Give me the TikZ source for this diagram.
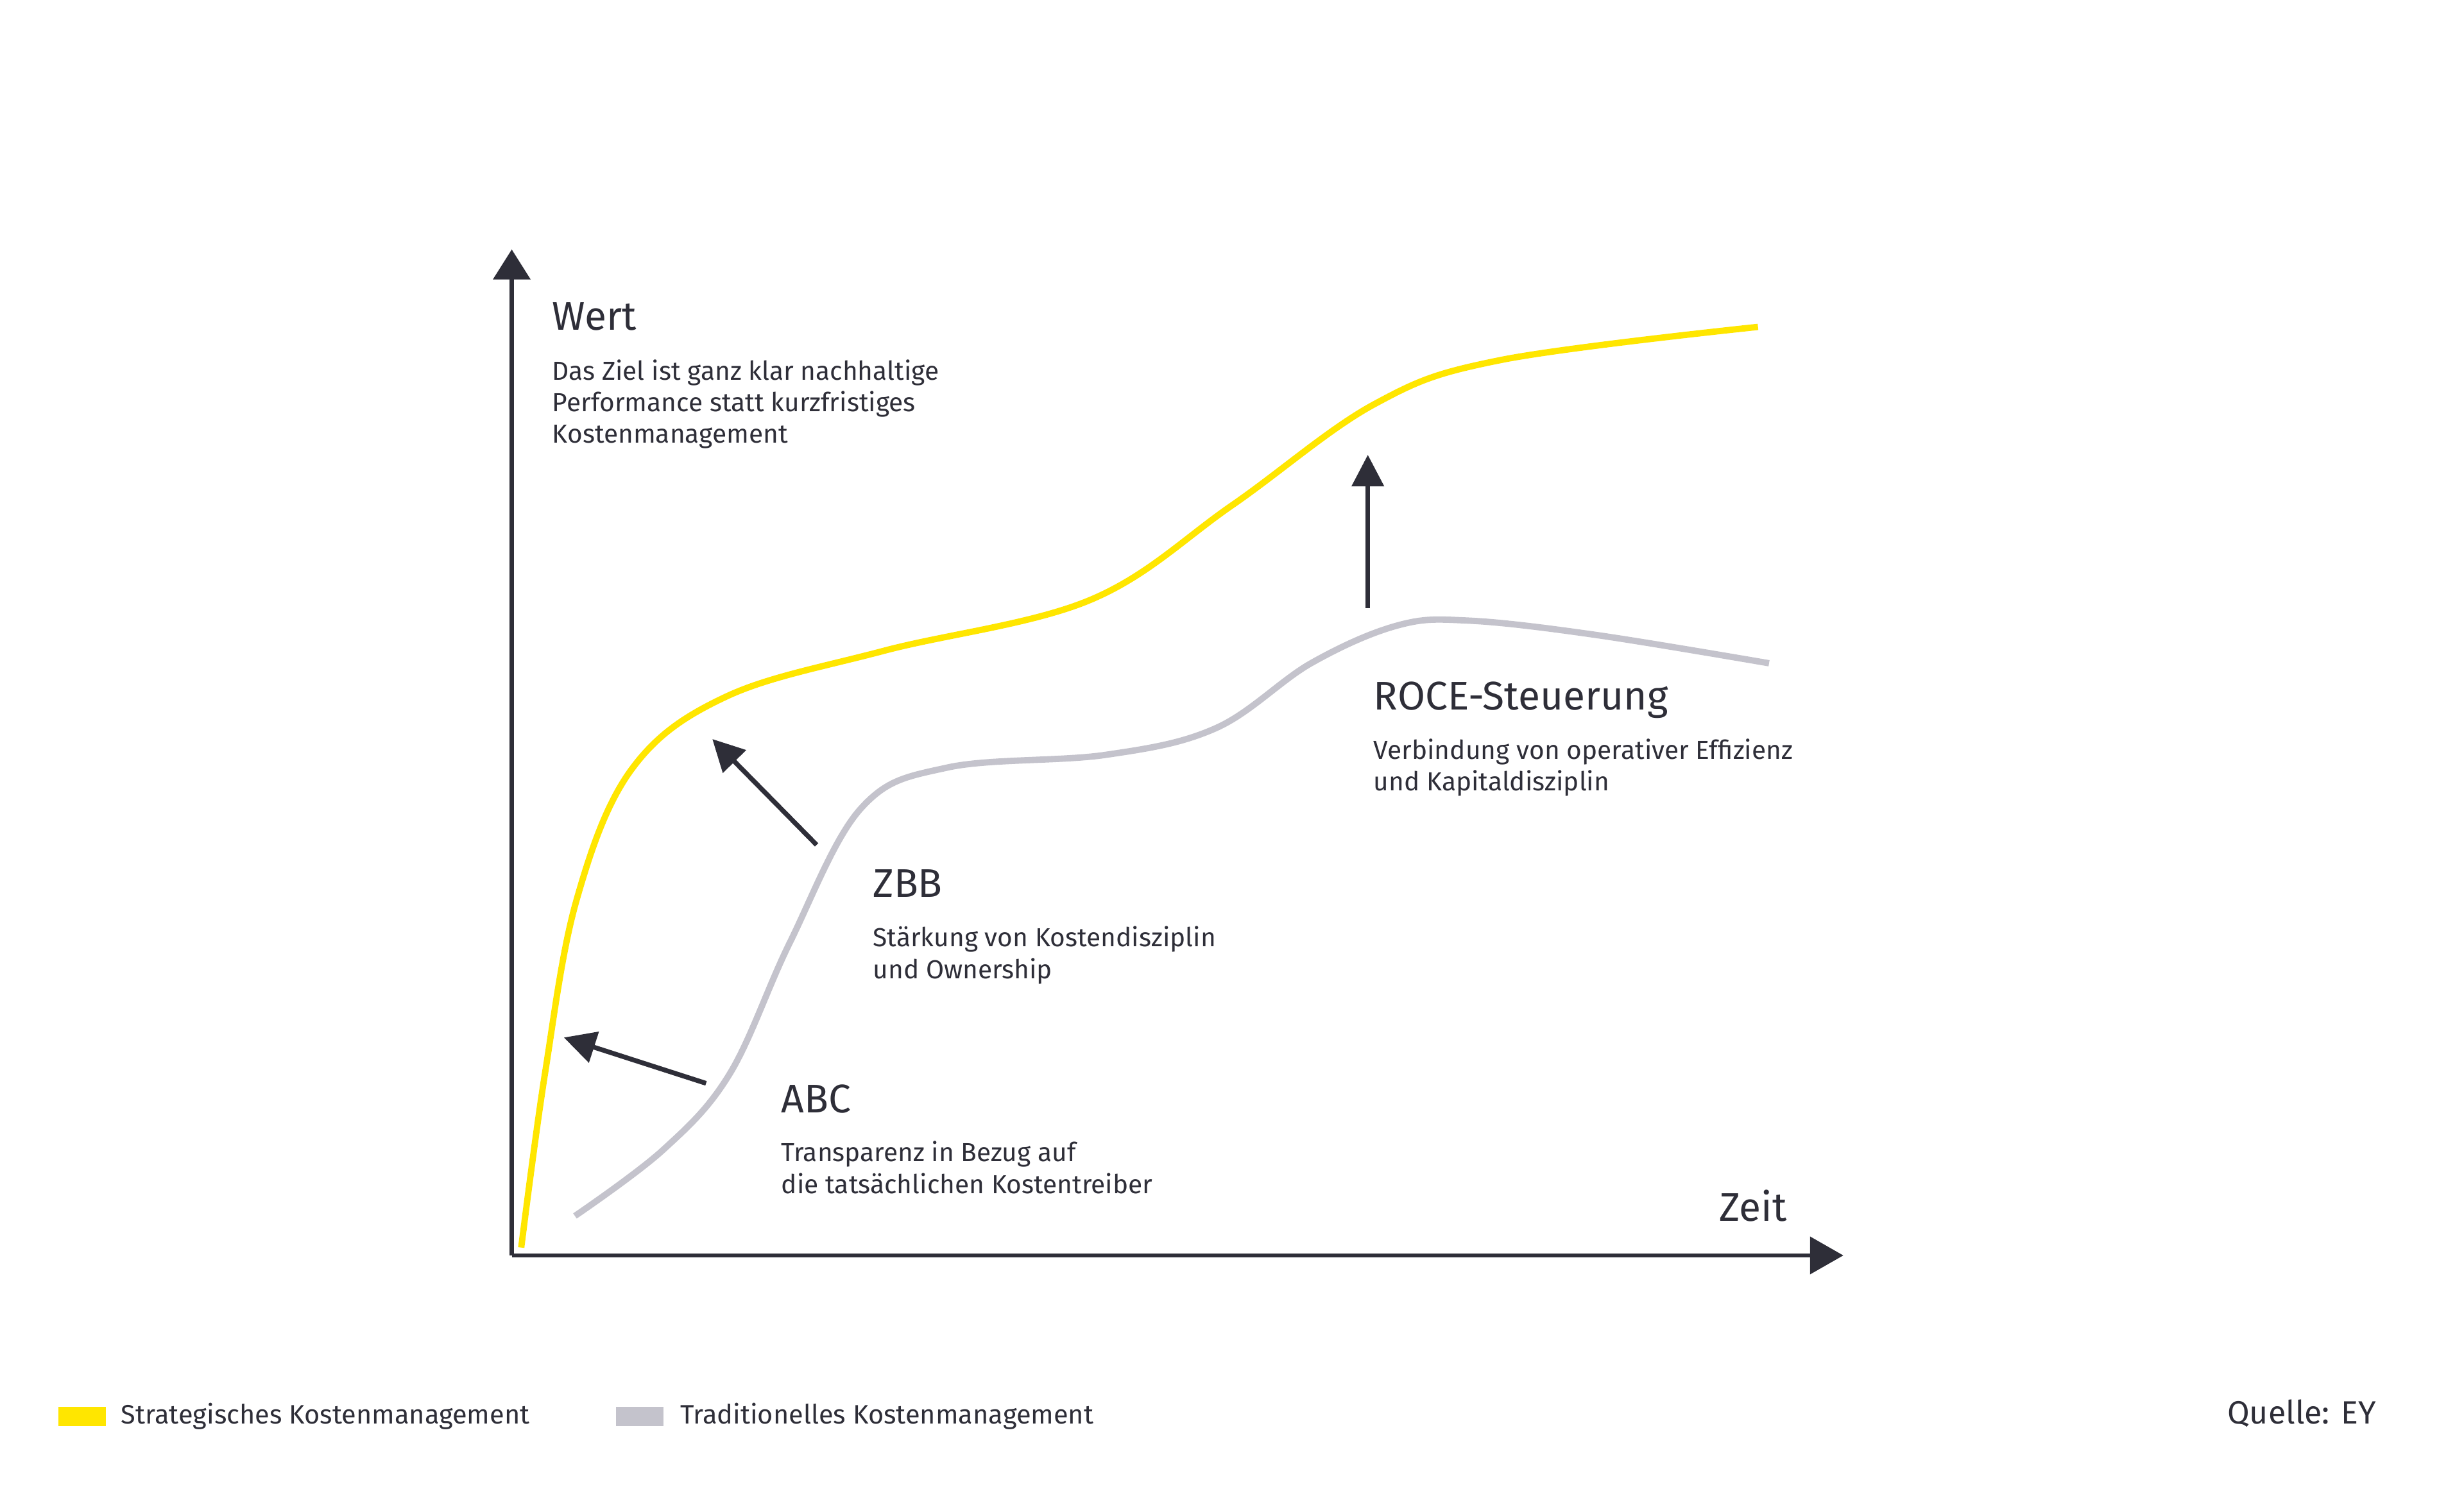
\documentclass[tikz,border=0pt]{standalone}
\usepackage{fontspec}
\usetikzlibrary{arrows.meta}
\setmainfont{Fira Sans}
\definecolor{eyy}{HTML}{FFE600}
\definecolor{eyg}{HTML}{C4C3CC}
\definecolor{eyd}{HTML}{2E2E38}
\begin{document}
\begin{tikzpicture}[x=0.01cm,y=-0.01cm,
  ax/.style={eyd,line width=0.028cm},
  tip/.style={fill=eyd,draw=none},
  arr/.style={eyd,line width=0.03cm,-{Triangle[length=0.2cm,width=0.2cm]}},
  head/.style={anchor=north west,inner sep=0,text=eyd,font=\fontsize{7.2}{8}\selectfont},
  sub/.style={anchor=north west,inner sep=0,text=eyd,align=left,font=\fontsize{4.7}{5.7}\selectfont},
  leg/.style={anchor=west,inner sep=0,text=eyd,font=\fontsize{4.8}{6}\selectfont}]
\useasboundingbox[fill=white] (0,0) rectangle (1560,953);
% axes
\coordinate (O) at (324,795);
\coordinate (Y) at (324,158);
\coordinate (X) at (1167,795);
\draw[ax] (O) -- (324,176);
\draw[ax] (O) -- (1148,795);
\fill[tip] (Y) -- (312,177) -- (336,177) -- cycle;
\fill[tip] (X) -- (1146,783) -- (1146,807) -- cycle;
% curves
\draw[eyg,line width=0.04cm] plot[smooth,tension=0.6] coordinates {(364,770) (420,728) (462,680) (500,597) (545,512) (600,486) (700,478) (770,461) (830,420) (885,396) (930,393) (1010,402) (1120,420)};
\draw[eyy,line width=0.04cm] plot[smooth,tension=0.6] coordinates {(330,790) (345,680) (365,570) (400,487) (460,441) (560,412) (690,380) (780,320) (870,256) (950,228) (1113,207)};
% arrows
\coordinate (a1s) at (447,686); \coordinate (a1e) at (357,657);
\coordinate (a2s) at (517,535); \coordinate (a2e) at (451,468);
\coordinate (a3s) at (866,385); \coordinate (a3e) at (866,288);
\draw[arr] (a1s) -- (a1e);
\draw[arr] (a2s) -- (a2e);
\draw[arr] (a3s) -- (a3e);
% texts
\node[head] (wert) at (349,191) {Wert};
\node[sub] (wertt) at (349,227) {Das Ziel ist ganz klar nachhaltige\\Performance statt kurzfristiges\\Kostenmanagement};
\node[head] (zbb) at (552,550) {ZBB};
\node[sub] (zbbt) at (552,586) {Stärkung von Kostendisziplin\\und Ownership};
\node[head] (abc) at (494,686) {ABC};
\node[sub] (abct) at (494,722) {Transparenz in Bezug auf\\die tatsächlichen Kostentreiber};
\node[head] (roce) at (869,431) {ROCE-Steuerung};
\node[sub] (rocet) at (869,467) {Verbindung von operativer Effizienz\\und Kapitaldisziplin};
\node[head,anchor=north east] (zeit) at (1132,753) {Zeit};
% legend
\fill[eyy] (37,891) rectangle (67,903);
\node[leg] (l1) at (76,897) {Strategisches Kostenmanagement};
\fill[eyg] (390,891) rectangle (420,903);
\node[leg] (l2) at (430,897) {Traditionelles Kostenmanagement};
\node[leg,anchor=east,font=\fontsize{5.8}{7}\selectfont] (q) at (1505,895) {Quelle: EY};
\end{tikzpicture}
\end{document}
